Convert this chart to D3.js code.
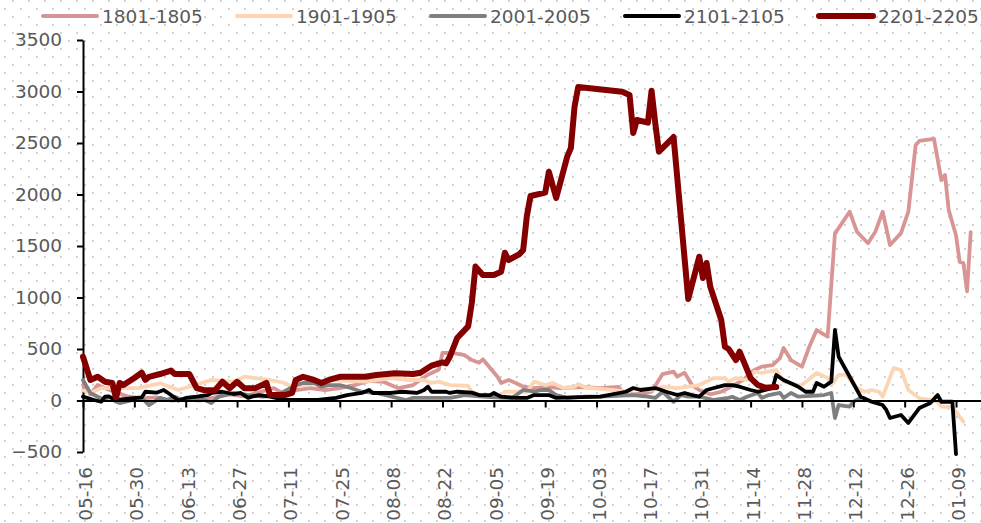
<!DOCTYPE html>
<html>
<head>
<meta charset="utf-8">
<script src="https://cdn.jsdelivr.net/npm/d3@7"></script>
<style>
  html, body { margin: 0; padding: 0; background: #fff; }
  svg { display: block; }
  text { font-family: "DejaVu Sans", sans-serif; fill: #595959; }
</style>
</head>
<body>
<svg id="chart" width="981" height="523"></svg>
<script>
// ---------------- DATA ----------------
const seriesNames = ["1801-1805", "1901-1905", "2001-2005", "2101-2105", "2201-2205"];
const seriesColors = ["#D99594", "#FCD5B4", "#7F7F7F", "#000000", "#840000"];
const seriesWidths = [3.8, 3.8, 3.8, 3.8, 6];

const xTickLabels = ["05-16","05-30","06-13","06-27","07-11","07-25","08-08","08-22","09-05",
  "09-19","10-03","10-17","10-31","11-14","11-28","12-12","12-26","01-09"];
const yTickValues = [-500, 0, 500, 1000, 1500, 2000, 2500, 3000, 3500];

const s1801 = [["05-16",150],["05-18",60],["05-20",150],["05-22",120],["05-25",80],["05-28",40],
  ["06-01",20],["06-05",30],["06-09",0],["06-13",10],["06-17",0],["06-21",30],["06-25",60],["06-29",40],
  ["07-03",80],["07-07",120],["07-10",60],["07-13",100],["07-17",120],["07-21",100],["07-25",120],["07-29",150],
  ["08-02",190],["08-06",180],["08-10",120],["08-14",150],["08-18",250],["08-21",300],["08-22",461],["08-25",461],
  ["08-28",441],["08-30",393],["09-01",367],["09-02",400],["09-04",315],["09-06",231],["09-07",170],["09-09",199],
  ["09-11",170],["09-13",134],["09-16",121],["09-20",131],["09-23",121],["09-29",131],["10-04",121],["10-09",131],
  ["10-10",85],["10-13",60],["10-16",70],["10-18",85],["10-21",257],["10-24",280],["10-25",231],["10-27",270],
  ["10-29",150],["10-31",102],["11-03",60],["11-06",85],["11-08",121],["11-12",200],["11-15",296],["11-17",328],
  ["11-20",344],["11-22",412],["11-23",510],["11-25",393],["11-28",328],["11-30",522],["12-02",684],["12-05",620],
  ["12-07",1625],["12-08",1674],["12-11",1833],["12-13",1638],["12-16",1527],["12-18",1638],["12-20",1833],
  ["12-22",1510],["12-25",1625],["12-27",1833],["12-29",2480],["12-30",2520],["01-03",2540],["01-05",2140],
  ["01-06",2190],["01-07",1850],["01-09",1605],["01-10",1345],["01-11",1335],["01-12",1060],["01-13",1635]];

const s1901 = [["05-16",100],["05-18",73],["05-21",121],["05-25",121],["05-31",121],["06-06",167],["06-11",102],
  ["06-20",199],["06-26",183],["06-29",231],["07-02",218],["07-06",199],["07-10",170],["07-12",134],["07-16",150],
  ["07-22",199],["08-01",183],["08-08",218],["08-13",199],["08-17",199],["08-19",170],["08-21",183],["08-24",150],
  ["08-29",141],["08-30",85],["09-01",53],["09-07",44],["09-08",85],["09-14",85],["09-16",183],["09-19",150],
  ["09-21",170],["09-24",121],["09-27",134],["09-28",160],["09-30",127],["10-12",85],["10-13",121],["10-18",102],
  ["10-21",134],["10-25",121],["10-28",134],["10-31",150],["11-04",218],["11-07",218],["11-08",183],["11-10",218],
  ["11-13",199],["11-15",280],["11-17",267],["11-21",296],["11-23",183],["11-27",150],["11-28",150],["12-02",267],
  ["12-05",218],["12-06",150],["12-08",248],["12-10",248],["12-13",121],["12-15",85],["12-17",102],["12-19",85],
  ["12-20",37],["12-23",315],["12-25",296],["12-27",102],["12-30",21],["01-02",5],["01-04",-12],["01-05",-60],
  ["01-08",-63],["01-11",-206]];

const s2001 = [["05-16",199],["05-18",73],["05-20",37],["05-22",5],["05-23",37],["05-25",-12],["05-26",-25],
  ["06-01",25],["06-03",-44],["06-06",25],["06-08",5],["06-10",37],["06-12",5],["06-17",25],["06-20",-25],
  ["06-22",37],["06-26",73],["06-30",53],["07-04",37],["07-08",53],["07-11",110],["07-13",150],["07-15",170],
  ["07-18",170],["07-20",134],["07-22",150],["07-25",150],["07-28",121],["07-31",85],["08-04",73],["08-09",30],
  ["08-12",5],["08-14",25],["08-24",25],["08-26",37],["08-28",53],["09-02",37],["09-08",25],["09-10",25],
  ["09-13",102],["09-16",85],["09-18",102],["09-20",102],["09-22",53],["09-25",25],["09-30",37],["10-04",37],
  ["10-13",53],["10-17",37],["10-19",25],["10-21",85],["10-24",-12],["10-26",53],["10-28",37],["10-31",37],
  ["11-04",5],["11-08",25],["11-09",37],["11-11",5],["11-13",37],["11-16",73],["11-17",25],["11-19",53],
  ["11-22",73],["11-23",25],["11-25",73],["11-27",37],["12-04",53],["12-06",73],["12-07",-170],["12-08",-44],
  ["12-11",-60],["12-12",-12],["12-14",25]];

const s2101 = [["05-16",37],["05-19",5],["05-21",-12],["05-22",37],["05-23",40],["05-25",5],["06-01",30],
  ["06-02",85],["06-05",76],["06-07",102],["06-09",53],["06-11",0],["06-13",25],["06-16",37],["06-19",53],
  ["06-20",73],["06-23",85],["06-26",63],["06-28",73],["06-30",25],["07-01",37],["07-03",53],["07-06",37],
  ["07-10",5],["07-19",5],["07-24",25],["07-27",53],["07-31",73],["08-02",102],["08-03",73],["08-08",73],
  ["08-11",85],["08-15",73],["08-17",102],["08-18",134],["08-19",85],["08-23",85],["08-24",73],["08-26",85],
  ["08-30",76],["09-01",53],["09-04",53],["09-05",73],["09-07",37],["09-11",25],["09-14",25],["09-16",53],
  ["09-20",53],["09-22",25],["10-04",37],["10-11",85],["10-13",121],["10-15",102],["10-19",121],["10-22",85],
  ["10-25",53],["10-27",73],["10-29",53],["10-31",37],["11-02",102],["11-04",121],["11-07",150],["11-09",150],
  ["11-11",134],["11-14",102],["11-16",85],["11-18",102],["11-20",121],["11-21",247],["11-23",199],["11-26",150],
  ["11-27",134],["11-29",85],["12-01",85],["12-02",170],["12-04",134],["12-06",183],["12-07",685],["12-08",425],
  ["12-10",296],["12-13",102],["12-14",37],["12-17",-12],["12-20",-44],["12-21",-92],["12-22",-170],["12-25",-141],
  ["12-27",-218],["12-30",-73],["01-02",-25],["01-04",53],["01-05",-12],["01-08",-12],["01-09",-520]];

const s2201 = [["05-16",425],["05-18",200],["05-20",230],["05-22",182],["05-24",170],["05-25",25],["05-26",170],
  ["05-27",150],["05-30",218],["06-01",270],["06-02",200],["06-03",230],["06-06",257],["06-09",290],["06-10",257],
  ["06-14",257],["06-16",120],["06-18",100],["06-21",100],["06-23",182],["06-25",120],["06-27",182],["06-29",120],
  ["07-02",120],["07-05",170],["07-06",53],["07-10",53],["07-12",73],["07-13",200],["07-15",230],["07-18",200],
  ["07-20",170],["07-22",200],["07-25",230],["07-28",230],["08-01",230],["08-04",247],["08-09",265],["08-14",257],
  ["08-16",270],["08-18",315],["08-19",338],["08-22",370],["08-23",360],["08-24",425],["08-26",607],["08-29",720],
  ["08-30",950],["08-31",1300],["09-02",1218],["09-05",1218],["09-07",1250],["09-08",1435],["09-09",1364],
  ["09-12",1422],["09-13",1461],["09-14",1790],["09-15",1985],["09-19",2018],["09-20",2221],["09-22",1966],
  ["09-25",2367],["09-26",2451],["09-27",2852],["09-28",3044],["10-10",2998],["10-12",2966],["10-13",2597],
  ["10-14",2723],["10-17",2697],["10-18",3008],["10-19",2694],["10-20",2416],["10-24",2558],["10-28",985],
  ["10-31",1396],["11-01",1189],["11-02",1335],["11-03",1105],["11-06",781],["11-07",522],["11-08",500],
  ["11-10",393],["11-11",474],["11-14",218],["11-16",150],["11-18",124],["11-21",131]];

const allSeries = [s1801, s1901, s2001, s2101, s2201];

// ---------------- HELPERS ----------------
const parseFull = d3.timeParse("%Y-%m-%d");
function parseMD(md) {
  const m = +md.slice(0, 2);
  return parseFull((m >= 5 ? "2022-" : "2023-") + md);
}

// ---------------- CHART ----------------
const svg = d3.select("#chart");

// dotted background pattern
const defs = svg.append("defs");
const pat = defs.append("pattern").attr("id", "dots").attr("patternUnits", "userSpaceOnUse")
  .attr("width", 16).attr("height", 16);
pat.append("rect").attr("x", 12).attr("y", 0).attr("width", 2).attr("height", 2).attr("fill", "#d2d2d2");
pat.append("rect").attr("x", 4).attr("y", 8).attr("width", 2).attr("height", 2).attr("fill", "#d2d2d2");
svg.append("rect").attr("width", 981).attr("height", 523).attr("fill", "#fff");
svg.append("rect").attr("width", 981).attr("height", 523).attr("fill", "url(#dots)");

const x = d3.scaleTime()
  .domain([parseMD("05-16"), parseMD("01-16")])
  .range([83, 981.7]);
const y = d3.scaleLinear().domain([-500, 3500]).range([452, 40]);

// Y axis
const yAxis = d3.axisLeft(y).tickValues(yTickValues).tickSize(6).tickSizeOuter(0).tickPadding(15)
  .tickFormat(d3.format("d"));
const yg = svg.append("g").attr("transform", "translate(83,0)").call(yAxis);
yg.select(".domain").attr("stroke", "#000").attr("stroke-width", 2);
yg.selectAll(".tick line").attr("stroke", "#000").attr("stroke-width", 2);
yg.selectAll(".tick text").attr("font-size", "18.5px").attr("font-family", "DejaVu Sans").attr("fill", "#595959");

// Lines
const line = d3.line().x(d => x(d.date)).y(d => y(d.v));
allSeries.forEach((s, i) => {
  const data = s.map(([md, v]) => ({ date: parseMD(md), v }));
  svg.append("path").datum(data)
    .attr("fill", "none")
    .attr("stroke", seriesColors[i])
    .attr("stroke-width", seriesWidths[i])
    .attr("stroke-linejoin", "round")
    .attr("stroke-linecap", "round")
    .attr("d", line);
});

// X axis at zero
const xTickDates = xTickLabels.map(parseMD);
const xAxis = d3.axisBottom(x).tickValues(xTickDates).tickSize(7).tickSizeOuter(0).tickFormat("");
const xg = svg.append("g").attr("transform", `translate(0,${y(0)})`).call(xAxis);
xg.select(".domain").attr("stroke", "#000").attr("stroke-width", 2);
xg.selectAll(".tick line").attr("stroke", "#000").attr("stroke-width", 2);

// X tick labels at bottom (low position), rotated
svg.append("g").selectAll("text").data(xTickLabels).join("text")
  .attr("transform", d => `translate(${x(parseMD(d)) + 2.5},467) rotate(-90)`)
  .attr("text-anchor", "end")
  .attr("dominant-baseline", "central")
  .attr("font-size", "18.5px")
  .text(d => d);

// Legend
const legend = svg.append("g");
seriesNames.forEach((name, i) => {
  const lx = 43 + i * 194;
  legend.append("line").attr("x1", lx).attr("x2", lx + 54).attr("y1", 16).attr("y2", 16)
    .attr("stroke", seriesColors[i]).attr("stroke-width", seriesWidths[i] === 6 ? 6 : 4)
    .attr("stroke-linecap", "round");
  legend.append("text").attr("x", lx + 59).attr("y", 16)
    .attr("dominant-baseline", "central").attr("font-size", "18.5px").text(name);
});
</script>
</body>
</html>
